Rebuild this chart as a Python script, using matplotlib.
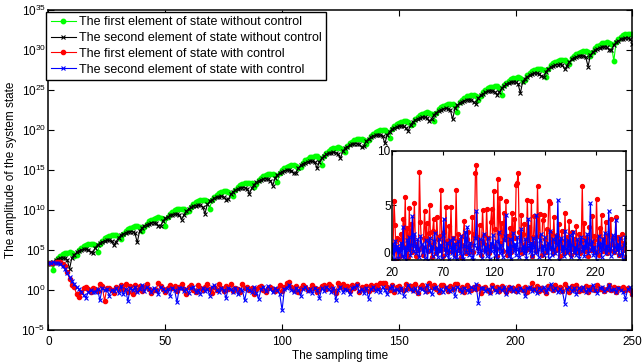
import numpy as np
import matplotlib
matplotlib.use('Agg')
import matplotlib.pyplot as plt
from matplotlib.ticker import NullLocator

# > Fonts and MATLAB-like axes style
plt.rcParams['font.family'] = ['Liberation Sans', 'DejaVu Sans']
plt.rcParams['mathtext.fontset'] = 'custom'
plt.rcParams['mathtext.rm'] = 'Liberation Sans'
plt.rcParams['mathtext.it'] = 'Liberation Sans:italic'
plt.rcParams['mathtext.bf'] = 'Liberation Sans:bold'
plt.rcParams['font.size'] = 8.5
plt.rcParams['xtick.direction'] = 'in'
plt.rcParams['ytick.direction'] = 'in'
plt.rcParams['xtick.top'] = True
plt.rcParams['ytick.right'] = True
plt.rcParams['axes.linewidth'] = 1.1

# > Data: sampling time
steps = np.arange(251)

# log10 of |x1| without control (green)
green_log = [
    3.40, 3.37, 2.54, 3.68, 4.06, 4.30, 4.47, 4.60, 4.67, 4.69,
    4.61, 4.26, 4.38, 4.95, 5.26, 5.47, 5.62, 5.73, 5.78, 5.77,
    5.62, 4.70, 5.77, 6.18, 6.45, 6.63, 6.76, 6.85, 6.88, 6.83,
    6.57, 6.32, 7.06, 7.39, 7.62, 7.78, 7.89, 7.96, 7.96, 7.86,
    7.35, 7.82, 8.31, 8.59, 8.79, 8.93, 9.02, 9.07, 9.03, 8.85,
    8.01, 9.15, 9.53, 9.77, 9.95, 10.07, 10.14, 10.16, 10.08, 9.74,
    9.85, 10.42, 10.73, 10.94, 11.10, 11.20, 11.25, 11.24, 11.09, 10.18,
    11.24, 11.65, 11.92, 12.10, 12.24, 12.32, 12.35, 12.30, 12.04, 11.80,
    12.53, 12.86, 13.09, 13.25, 13.37, 13.43, 13.43, 13.33, 12.82, 13.30,
    13.78, 14.06, 14.26, 14.40, 14.50, 14.54, 14.50, 14.32, 13.48, 14.63,
    15.00, 15.24, 15.42, 15.54, 15.62, 15.63, 15.55, 15.21, 15.32, 15.90,
    16.20, 16.41, 16.57, 16.67, 16.73, 16.71, 16.56, 15.65, 16.71, 17.13,
    17.39, 17.57, 17.71, 17.79, 17.83, 17.77, 17.51, 17.27, 18.00, 18.34,
    18.56, 18.72, 18.84, 18.90, 18.91, 18.80, 18.29, 18.77, 19.25, 19.54,
    19.73, 19.87, 19.97, 20.01, 19.98, 19.79, 18.95, 20.10, 20.47, 20.72,
    20.89, 21.01, 21.09, 21.10, 21.03, 20.68, 20.79, 21.37, 21.67, 21.89,
    22.04, 22.14, 22.20, 22.18, 22.04, 21.12, 22.18, 22.60, 22.86, 23.05,
    23.18, 23.26, 23.30, 23.24, 22.99, 22.30, 23.47, 23.81, 24.03, 24.20,
    24.31, 24.37, 24.38, 24.27, 23.77, 24.24, 24.72, 25.01, 25.20, 25.35,
    25.44, 25.48, 25.45, 25.26, 24.43, 25.57, 25.94, 26.19, 26.36, 26.49,
    26.56, 26.57, 26.50, 26.15, 26.27, 26.84, 27.14, 27.36, 27.51, 27.62,
    27.67, 27.65, 27.51, 26.59, 27.66, 28.07, 28.33, 28.52, 28.65, 28.74,
    28.77, 28.71, 28.46, 28.21, 28.95, 29.28, 29.50, 29.67, 29.78, 29.85,
    29.85, 29.74, 29.24, 29.71, 30.20, 30.48, 30.67, 30.82, 30.91, 30.96,
    30.92, 30.73, 28.60, 31.04, 31.42, 31.66, 31.83, 31.96, 32.03, 32.05,
    31.97,
]

# log10 of |x2| without control (black)
black_log = [
    3.40, 3.22, 3.51, 3.71, 3.86, 3.95, 4.00, 3.98, 3.81, 2.60,
    4.04, 4.43, 4.69, 4.86, 5.00, 5.07, 5.10, 5.05, 4.77, 4.63,
    5.31, 5.63, 5.86, 6.02, 6.13, 6.19, 6.19, 6.09, 5.58, 6.06,
    6.54, 6.82, 7.02, 7.16, 7.26, 7.30, 7.27, 7.10, 5.94, 7.38,
    7.75, 8.00, 8.17, 8.30, 8.38, 8.40, 8.34, 8.05, 7.98, 8.63,
    8.95, 9.16, 9.33, 9.43, 9.50, 9.49, 9.38, 8.81, 9.39, 9.86,
    10.13, 10.33, 10.47, 10.56, 10.61, 10.57, 10.38, 9.55, 10.69, 11.07,
    11.31, 11.48, 11.61, 11.68, 11.70, 11.63, 11.31, 11.34, 11.95, 12.26,
    12.48, 12.63, 12.74, 12.80, 12.79, 12.67, 12.01, 12.73, 13.17, 13.45,
    13.64, 13.77, 13.87, 13.90, 13.87, 13.67, 13.03, 14.02, 14.38, 14.62,
    14.79, 14.91, 14.99, 15.00, 14.93, 14.58, 14.69, 15.27, 15.57, 15.79,
    15.94, 16.04, 16.10, 16.09, 15.96, 15.20, 16.06, 16.49, 16.75, 16.95,
    17.08, 17.17, 17.21, 17.16, 16.95, 16.46, 17.34, 17.70, 17.93, 18.10,
    18.22, 18.29, 18.30, 18.22, 17.84, 18.04, 18.58, 18.89, 19.09, 19.25,
    19.35, 19.40, 19.39, 19.24, 18.33, 19.39, 19.80, 20.07, 20.25, 20.39,
    20.48, 20.50, 20.46, 20.22, 19.87, 20.67, 21.00, 21.24, 21.40, 21.53,
    21.59, 21.60, 21.51, 21.09, 21.39, 21.91, 22.19, 22.40, 22.55, 22.65,
    22.71, 22.68, 22.54, 21.33, 22.72, 23.12, 23.37, 23.56, 23.69, 23.78,
    23.81, 23.75, 23.50, 23.25, 23.99, 24.32, 24.54, 24.71, 24.83, 24.90,
    24.90, 24.80, 24.35, 24.72, 25.23, 25.51, 25.71, 25.86, 25.95, 26.01,
    25.98, 25.81, 24.60, 26.04, 26.44, 26.69, 26.86, 27.00, 27.08, 27.11,
    27.05, 26.77, 26.63, 27.31, 27.64, 27.86, 28.02, 28.13, 28.19, 28.20,
    28.09, 27.58, 28.06, 28.54, 28.83, 29.02, 29.16, 29.26, 29.30, 29.28,
    29.10, 27.94, 29.38, 29.75, 30.00, 30.18, 30.30, 30.38, 30.40, 30.35,
    30.05, 29.98, 30.63, 30.95, 31.17, 31.33, 31.43, 31.50, 31.49, 31.39,
    30.81,
]

# |x1| with control (red)
red_vals = [
    2512, 2239, 2512, 3162, 3548, 2818, 1585, 1122, 200, 25,
    4.0, 2.5, 0.32, 0.14, 0.5, 1.6, 2.2, 1.25, 0.63, 2.0,
    1.2, 0.8, 5.4, 3.2, 0.04, 2.0, 1.9, 1.0, 0.4, 2.4,
    1.5, 3.8, 1.2, 5.8, 0.6, 2.9, 0.3, 4.8, 1.0, 3.3,
    0.7, 2.2, 5.2, 1.5, 0.4, 1.1, 0.9, 8.1, 3.5, 1.2,
    0.5, 2.0, 4.5, 1.8, 3.4, 0.8, 2.5, 5.0, 1.4, 0.3,
    2.7, 3.8, 1.1, 0.6, 3.9, 1.9, 0.9, 2.2, 6.4, 1.3,
    0.4, 2.6, 1.0, 4.9, 1.7, 0.7, 3.1, 1.5, 4.9, 0.8,
    2.0, 1.2, 0.5, 6.4, 1.6, 2.4, 0.9, 1.8, 0.3, 1.4,
    2.2, 3.6, 1.0, 0.6, 1.9, 2.6, 1.3, 0.8, 1.5, 3.9,
    0.7, 2.4, 8.0, 8.7, 2.1, 1.1, 3.2, 0.5, 1.7, 4.6,
    2.3, 0.9, 1.4, 4.7, 2.0, 0.6, 1.2, 3.5, 4.7, 1.3,
    6.3, 2.8, 1.0, 0.4, 7.4, 2.5, 5.7, 1.6, 3.4, 0.8,
    4.3, 1.9, 5.4, 0.5, 2.2, 1.4, 2.9, 0.7, 4.3, 1.2,
    3.8, 2.0, 6.9, 7.1, 8.0, 2.6, 1.0, 4.1, 0.6, 2.4,
    3.3, 1.5, 0.9, 5.5, 1.8, 3.0, 1.1, 5.4, 0.4, 2.1,
    4.0, 1.6, 0.8, 6.8, 2.2, 4.2, 1.3, 0.5, 3.7, 4.1,
    1.9, 0.7, 2.8, 1.4, 5.4, 5.2, 1.1, 2.5, 0.6, 3.9,
    1.7, 0.9, 2.3, 1.2, 3.3, 0.4, 1.8, 2.7, 1.0, 0.6,
    4.3, 1.5, 2.1, 0.8, 3.6, 1.3, 0.5, 2.6, 1.0, 1.9,
    0.7, 3.1, 1.4, 0.9, 2.4, 0.6, 1.7, 6.8, 1.2, 3.4,
    0.8, 2.0, 1.1, 0.4, 3.0, 1.6, 0.9, 4.0, 1.3, 2.2,
    0.7, 5.6, 1.8, 0.5, 2.9, 1.4, 4.1, 0.8, 1.9, 1.1,
    3.5, 0.6, 2.3, 1.2, 0.9, 3.8, 1.5, 2.0, 0.7, 1.3,
    3.9, 1.0, 2.1, 0.5, 1.8, 1.2, 2.4, 0.9, 1.6, 1.1,
    0.3,
]

# |x2| with control (blue)
blue_vals = [
    2512, 2239, 2818, 2512, 2239, 1995, 1000, 398, 126, 40,
    12.6, 5.0, 2.5, 1.26, 0.63, 0.25, 0.1, 0.5, 1.0, 0.63,
    0.6, 1.5, 0.05, 1.7, 0.9, 1.3, 0.2, 1.1, 0.7, 1.6,
    0.4, 3.0, 0.3, 1.2, 0.04, 1.8, 0.9, 2.1, 0.5, 1.4,
    4.0, 0.8, 2.4, 1.3, 0.6, 1.9, 1.0, 0.3, 2.2, 1.5,
    0.7, 1.2, 0.2, 1.8, 0.9, 0.03, 1.6, 2.0, 0.8, 1.3,
    0.4, 1.7, 2.5, 0.6, 1.1, 0.3, 1.9, 0.8, 1.4, 0.2,
    2.3, 3.8, 1.0, 0.5, 1.6, 0.9, 0.1, 1.8, 1.2, 0.6,
    2.0, 0.3, 1.5, 0.9, 0.05, 1.7, 1.1, 0.6, 2.2, 0.4,
    0.08, 1.3, 2.6, 0.7, 3.0, 1.2, 0.5, 1.6, 0.9, 0.3,
    0.003, 1.4, 2.0, 4.5, 1.1, 0.6, 1.9, 0.9, 0.2, 1.5,
    2.4, 0.7, 1.2, 0.4, 2.0, 1.0, 0.1, 1.6, 0.8, 2.3,
    1.3, 0.5, 1.7, 0.06, 1.1, 2.6, 0.6, 1.4, 0.9, 0.3,
    1.8, 2.2, 4.1, 0.7, 1.2, 0.4, 1.9, 0.08, 1.3, 2.5,
    0.8, 1.5, 0.5, 2.1, 1.0, 0.3, 1.7, 2.8, 0.9, 1.3,
    0.6, 1.9, 0.2, 1.1, 3.8, 1.4, 0.7, 1.6, 0.4, 2.0,
    1.2, 0.6, 4.1, 1.0, 0.3, 1.8, 2.4, 0.8, 1.3, 0.5,
    2.1, 1.1, 0.7, 1.6, 0.2, 2.7, 1.2, 0.5, 1.9, 1.0,
    0.6, 2.2, 1.4, 5.5, 0.025, 1.7, 2.0, 0.8, 1.3, 0.4,
    2.7, 1.1, 0.6, 1.8, 0.9, 2.3, 0.3, 1.4, 2.6, 0.7,
    1.2, 0.5, 1.9, 1.0, 0.2, 1.6, 2.1, 0.8, 1.3, 0.4,
    1.8, 1.1, 2.4, 0.6, 1.5, 5.2, 0.9, 1.7, 0.5, 1.2,
    0.7, 0.02, 1.4, 2.2, 0.8, 1.6, 0.3, 1.9, 1.0, 2.5,
    0.6, 1.3, 0.9, 4.5, 1.1, 0.4, 1.8, 2.3, 0.7, 1.2,
    3.7, 0.9, 1.5, 0.5, 2.0, 1.1, 0.6, 0.08, 1.4, 2.1,
    0.3,
]

labels = [
    'The first element of state without control',
    'The second element of state without control',
    'The first element of state with control',
    'The second element of state with control',
]
inset_start = 20

green = 10.0 ** np.array(green_log)
black = 10.0 ** np.array(black_log)
red = np.array(red_vals)
blue = np.array(blue_vals)

# > Main axes
fig = plt.figure(figsize=(6.44, 3.64), dpi=100)
ax = fig.add_axes([0.0753, 0.0934, 0.9068, 0.879])

ax.semilogy(steps, green, '-o', color='#00ff00', ms=3.2, lw=0.8, label=labels[0])
ax.semilogy(steps, black, '-x', color='k', ms=2.8, mew=0.8, lw=0.8, label=labels[1])
ax.semilogy(steps, red, '-o', color='#ff0000', ms=3.0, lw=0.8, label=labels[2])
ax.semilogy(steps, blue, '-x', color='#0000ff', ms=2.8, mew=0.8, lw=0.8, label=labels[3])

ax.set_xlim(0, 250)
ax.set_ylim(1e-5, 1e35)
ax.set_xticks([0, 50, 100, 150, 200, 250])
ax.set_yticks([10.0 ** p for p in range(-5, 36, 5)])
ax.yaxis.set_minor_locator(NullLocator())
ax.tick_params(length=4, width=0.8)
ax.tick_params(axis='x', pad=4)
ax.tick_params(axis='y', pad=2)

ax.set_xlabel('The sampling time', labelpad=2)
ax.set_ylabel('The amplitude of the system state', labelpad=3)

leg = ax.legend(loc='upper left', bbox_to_anchor=(-0.004, 0.994), fancybox=False,
                framealpha=1, edgecolor='k', borderpad=0.35, labelspacing=0.3,
                handlelength=2.0, handletextpad=0.3, borderaxespad=0, fontsize=9)
leg.get_frame().set_linewidth(1.0)

# > Inset: controlled states on linear scale
axin = fig.add_axes([0.6087, 0.2857, 0.3634, 0.2995])
axin.plot(steps[inset_start:], red[inset_start:], '-o', color='#ff0000', ms=2.8, lw=0.9)
axin.plot(steps[inset_start:], blue[inset_start:], '-x', color='#0000ff', ms=2.6, mew=0.8, lw=0.9)
axin.set_xlim(20, 250)
axin.set_ylim(0, 10)
axin.set_xticks([20, 70, 120, 170, 220])
axin.set_yticks([0, 5, 10])
axin.tick_params(length=3, width=0.8)
axin.tick_params(axis='x', pad=5)
axin.tick_params(axis='y', pad=1)
# lift the "0" label a touch so it clears the "20" below it
axin.get_yticklabels()[0].set_verticalalignment('bottom')

fig.savefig('out.png', dpi=100)
